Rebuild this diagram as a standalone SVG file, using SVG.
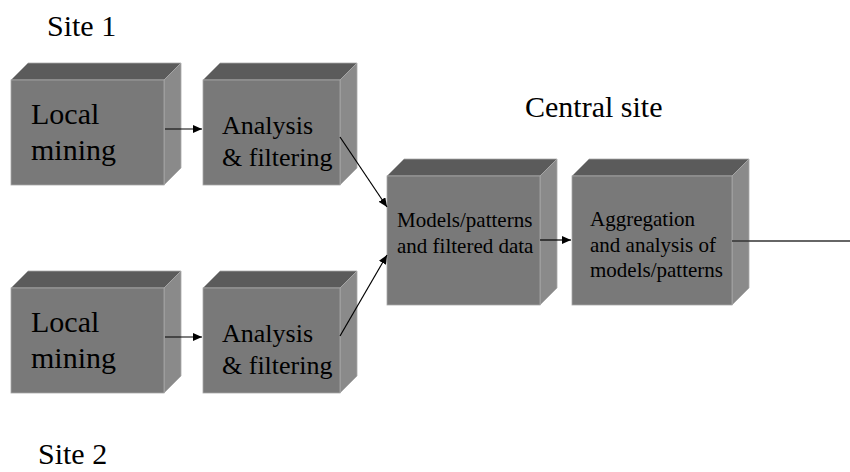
<svg xmlns="http://www.w3.org/2000/svg" width="850" height="472" viewBox="0 0 850 472">
<defs>
<marker id="ah" markerUnits="userSpaceOnUse" markerWidth="10" markerHeight="8" refX="9" refY="4" orient="auto">
<path d="M0,0 L9,4 L0,8 Z" fill="#000"/>
</marker>
<style>
.front{fill:#797979;stroke:#a8a8a8;stroke-width:0.8}
.top{fill:#5b5b5b;stroke:#a8a8a8;stroke-width:0.8}
.side{fill:#8a8a8a;stroke:#a8a8a8;stroke-width:0.8}
.conn{stroke:#000;stroke-width:1.2;fill:none}
</style>
</defs>
<rect width="850" height="472" fill="#fff"/>
<text style="font-family:'Liberation Serif',serif;font-size:30px" fill="#000" x="47" y="36">Site 1</text>
<text style="font-family:'Liberation Serif',serif;font-size:30px" fill="#000" x="525" y="117">Central site</text>
<text style="font-family:'Liberation Serif',serif;font-size:30px" fill="#000" x="38" y="464">Site 2</text>

<g id="local1">
<polygon class="top" points="11,80 28,63 181,63 164,80"/>
<polygon class="side" points="164,80 181,63 181,168 164,185"/>
<rect class="front" x="11" y="80" width="153" height="105"/>
<text style="font-family:'Liberation Serif',serif;font-size:30px" fill="#000" x="31" y="124">Local</text>
<text style="font-family:'Liberation Serif',serif;font-size:30px" fill="#000" x="31" y="160">mining</text>
</g>
<g id="analysis1">
<polygon class="top" points="203,80 220,63 357,63 340,80"/>
<polygon class="side" points="340,80 357,63 357,168 340,185"/>
<rect class="front" x="203" y="80" width="137" height="105"/>
<text style="font-family:'Liberation Serif',serif;font-size:26px" fill="#000" x="222" y="134">Analysis</text>
<text style="font-family:'Liberation Serif',serif;font-size:26px" fill="#000" x="222" y="166">&amp; filtering</text>
</g>
<g id="local2">
<polygon class="top" points="11,288 28,271 181,271 164,288"/>
<polygon class="side" points="164,288 181,271 181,376 164,393"/>
<rect class="front" x="11" y="288" width="153" height="105"/>
<text style="font-family:'Liberation Serif',serif;font-size:30px" fill="#000" x="31" y="332">Local</text>
<text style="font-family:'Liberation Serif',serif;font-size:30px" fill="#000" x="31" y="368">mining</text>
</g>
<g id="analysis2">
<polygon class="top" points="203,288 220,271 357,271 340,288"/>
<polygon class="side" points="340,288 357,271 357,376 340,393"/>
<rect class="front" x="203" y="288" width="137" height="105"/>
<text style="font-family:'Liberation Serif',serif;font-size:26px" fill="#000" x="222" y="342">Analysis</text>
<text style="font-family:'Liberation Serif',serif;font-size:26px" fill="#000" x="222" y="374">&amp; filtering</text>
</g>
<g id="models">
<polygon class="top" points="387,176 404,159 557,159 540,176"/>
<polygon class="side" points="540,176 557,159 557,288 540,305"/>
<rect class="front" x="387" y="176" width="153" height="129"/>
<text style="font-family:'Liberation Serif',serif;font-size:21px" fill="#000" x="397" y="227">Models/patterns</text>
<text style="font-family:'Liberation Serif',serif;font-size:21px" fill="#000" x="397" y="253">and filtered data</text>
</g>
<g id="aggregation">
<polygon class="top" points="572,176 589,159 749,159 732,176"/>
<polygon class="side" points="732,176 749,159 749,288 732,305"/>
<rect class="front" x="572" y="176" width="160" height="129"/>
<text style="font-family:'Liberation Serif',serif;font-size:21px" fill="#000" x="590" y="226">Aggregation</text>
<text style="font-family:'Liberation Serif',serif;font-size:21px" fill="#000" x="590" y="252">and analysis of</text>
<text style="font-family:'Liberation Serif',serif;font-size:21px" fill="#000" x="590" y="277">models/patterns</text>
</g>
<g id="connectors">
<line class="conn" x1="165" y1="129" x2="202" y2="129" marker-end="url(#ah)"/>
<line class="conn" x1="165" y1="337" x2="202" y2="337" marker-end="url(#ah)"/>
<line class="conn" x1="340" y1="137" x2="387" y2="207" marker-end="url(#ah)"/>
<line class="conn" x1="340" y1="336" x2="387" y2="255" marker-end="url(#ah)"/>
<line class="conn" x1="540" y1="240" x2="571" y2="240" marker-end="url(#ah)"/>
<line x1="732" y1="241" x2="850" y2="241" stroke="#333" stroke-width="1.5"/>
</g>
</svg>
